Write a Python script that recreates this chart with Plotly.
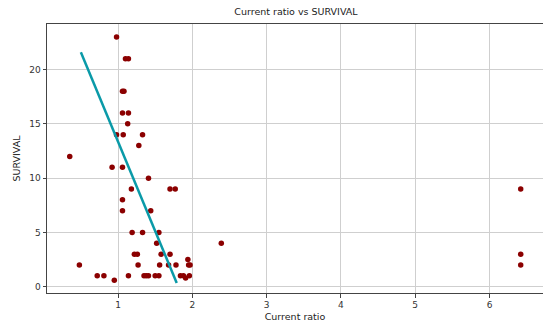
import plotly.graph_objects as go

# Scatter data: Current ratio vs SURVIVAL
current_ratio = [0.35, 0.48, 0.72, 0.81, 0.95, 0.92, 0.98, 0.98, 1.06, 1.06,
                 1.08, 1.06, 1.14, 1.13, 1.07, 1.10, 1.14, 1.06, 1.06, 1.14,
                 1.18, 1.19, 1.22, 1.26, 1.27, 1.28, 1.33, 1.33, 1.35, 1.38,
                 1.41, 1.41, 1.44, 1.50, 1.55, 1.52, 1.55, 1.58, 1.56, 1.68,
                 1.70, 1.70, 1.77, 1.78, 1.84, 1.88, 1.91, 1.96, 1.94, 1.95,
                 1.97, 2.39, 6.42, 6.42, 6.42]
survival = [12, 2, 1, 1, 0.6, 11, 23, 14, 11, 18,
            18, 16, 16, 15, 14, 21, 21, 8, 7, 1,
            9, 5, 3, 3, 2, 13, 14, 5, 1, 1,
            1, 10, 7, 1, 1, 4, 5, 3, 2, 2,
            3, 9, 9, 2, 1, 1, 0.8, 1, 2.5, 2,
            2, 4, 9, 3, 2]

# Fitted trend line endpoints
line_x = [0.5, 1.79]
line_y = [21.6, 0.35]

x_ticks = [1, 2, 3, 4, 5, 6]
y_ticks = [0, 5, 10, 15, 20]

font = "DejaVu Sans"

fig = go.Figure()
fig.add_trace(go.Scatter(
    x=current_ratio, y=survival, mode="markers",
    marker=dict(color="#8b0000", size=5.5, line=dict(width=0)),
    showlegend=False, hoverinfo="skip"))
fig.add_trace(go.Scatter(
    x=line_x, y=line_y, mode="lines",
    line=dict(color="#0a9aa8", width=2.5),
    showlegend=False, hoverinfo="skip"))

axis_common = dict(
    showgrid=True, gridcolor="#cfcfcf", gridwidth=1,
    zeroline=False, showline=True, linecolor="#444", linewidth=1,
    ticks="outside", ticklen=3.5, tickcolor="#444", tickwidth=1,
    tickfont=dict(family=font, size=9, color="#333"),
    automargin=False,
)

fig.update_layout(
    template="none",
    width=543, height=324,
    font=dict(family=font, size=9, color="#222"),
    margin=dict(l=47, r=0, t=24, b=31),
    paper_bgcolor="white", plot_bgcolor="white",
    title=dict(text="Current ratio vs SURVIVAL", x=0.545, xanchor="center",
               yref="container", y=1 - 12 / 324, yanchor="middle",
               automargin=False,
               font=dict(family=font, size=9.5, color="#222")),
    xaxis=dict(range=[0.044, 6.72], tickvals=x_ticks, mirror=True,
               title=dict(text="Current ratio", standoff=4,
                          font=dict(family=font, size=9.5, color="#222")),
               **axis_common),
    yaxis=dict(range=[-0.58, 24.2], tickvals=y_ticks, mirror=False,
               title=dict(text="SURVIVAL", standoff=6,
                          font=dict(family=font, size=9.5, color="#222")),
               **axis_common),
)

fig.write_html("out.html",
               config={"displayModeBar": False, "staticPlot": True},
               post_script="document.body.style.margin='0';document.body.style.overflow='hidden';")
